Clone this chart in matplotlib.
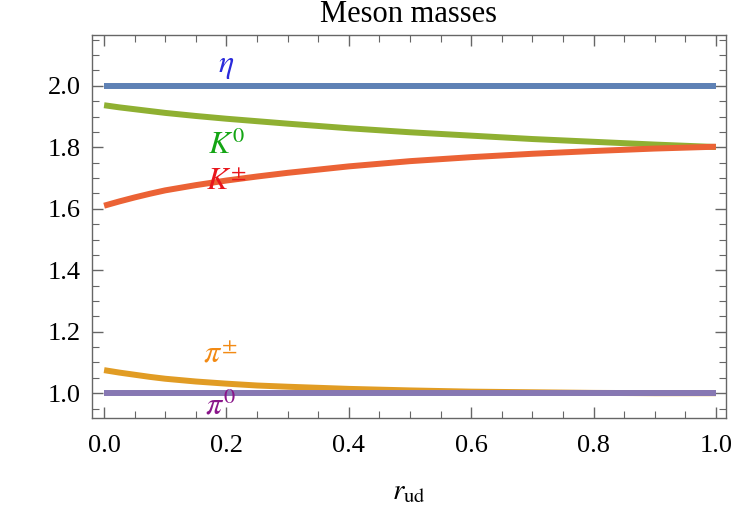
import numpy as np
import matplotlib
matplotlib.use("Agg")
import matplotlib.pyplot as plt
from matplotlib.ticker import MultipleLocator

plt.rcParams['font.family'] = ['Liberation Serif', 'DejaVu Serif']
plt.rcParams['mathtext.fontset'] = 'stix'

# values
r_ud = [0.0, 0.025, 0.05, 0.075, 0.1, 0.15, 0.2, 0.25, 0.3, 0.4, 0.5, 0.6, 0.7, 0.8, 0.9, 1.0]
eta = [2.0] * len(r_ud)
k_zero = [1.937, 1.930, 1.924, 1.918, 1.912, 1.902, 1.893, 1.885, 1.877, 1.862, 1.849, 1.838, 1.827, 1.818, 1.809, 1.801]
k_charged = [1.610, 1.624, 1.637, 1.649, 1.660, 1.677, 1.692, 1.705, 1.717, 1.738, 1.755, 1.768, 1.779, 1.788, 1.796, 1.802]
pi_charged = [1.075, 1.067, 1.060, 1.053, 1.047, 1.038, 1.031, 1.025, 1.021, 1.014, 1.009, 1.005, 1.003, 1.001, 1.000, 1.000]
pi_zero = [1.0] * len(r_ud)

series = [
    (eta, '#5E81B5', r'$\eta$', '#2A2ADB', 0.2, 2.062),
    (k_zero, '#8FB032', r'$K^0$', '#14A514', 0.2, 1.805),
    (k_charged, '#EB6235', r'$K^{\pm}$', '#E8161C', 0.2, 1.684),
    (pi_charged, '#E19C24', r'$\pi^{\pm}$', '#F28A14', 0.19, 1.124),
    (pi_zero, '#8778B3', r'$\pi^0$', '#8A168A', 0.19, 0.958),
]

fig = plt.figure(figsize=(7.31, 5.20), dpi=100)
ax = fig.add_axes([0.126, 0.196, 0.867, 0.737])

for vals, col, lab, lab_col, lx, ly in series:
    ax.plot(r_ud, vals, color=col, lw=4.3, solid_capstyle='butt')
    ax.text(lx, ly, lab, color=lab_col, fontsize=23, ha='center', va='center')

ax.set_xlim(-0.0196, 1.0163)
ax.set_ylim(0.919, 2.166)
ax.xaxis.set_major_locator(MultipleLocator(0.2))
ax.xaxis.set_minor_locator(MultipleLocator(0.05))
ax.yaxis.set_major_locator(MultipleLocator(0.2))
ax.yaxis.set_minor_locator(MultipleLocator(0.05))
ax.xaxis.set_major_formatter(lambda v, p: f"{v:.1f}")
ax.yaxis.set_major_formatter(lambda v, p: f"{v:.1f}")

ax.tick_params(which='both', direction='in', top=True, right=True,
               color='#666666', labelsize=19, labelcolor='black')
ax.tick_params(which='major', length=8, width=1)
ax.tick_params(axis='x', which='major', pad=12)
ax.tick_params(axis='y', which='major', pad=8)
ax.tick_params(which='minor', length=5, width=0.8)
for s in ax.spines.values():
    s.set_color('#666666')
    s.set_linewidth(1)

ax.set_title('Meson masses', fontsize=22, pad=9, y=1.0)
ax.set_xlabel(r'$r_{\mathrm{ud}}$', fontsize=21, labelpad=16)

fig.savefig('out.png', dpi=100)
